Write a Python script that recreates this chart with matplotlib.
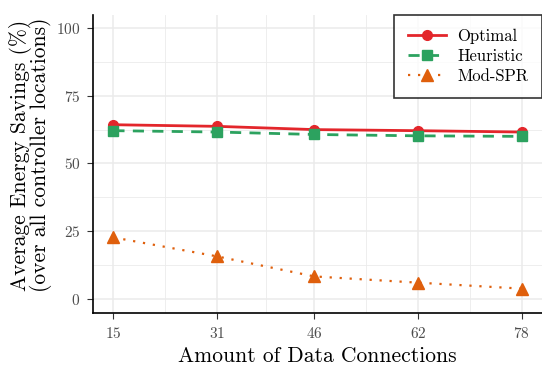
import matplotlib
matplotlib.use("Agg")
import matplotlib.pyplot as plt
from matplotlib.ticker import FixedLocator

plt.rcParams['font.family'] = ['cmr10', 'DejaVu Serif']
plt.rcParams['mathtext.fontset'] = 'cm'
plt.rcParams['axes.formatter.use_mathtext'] = True

connections = [15, 31, 46, 62, 78]
optimal = [64.3, 63.7, 62.5, 62.1, 61.6]
heuristic = [62.1, 61.6, 60.7, 60.2, 60.0]
mod_spr = [22.7, 15.7, 8.3, 6.0, 3.8]
yticks = [0, 25, 50, 75, 100]

W, H = 542, 367
L, R, T, B = 93, 542, 15, 313
fig = plt.figure(figsize=(W/100, H/100), dpi=100)
ax = fig.add_axes([L/W, 1-B/H, (R-L)/W, (B-T)/H])

red = '#e3262b'
green = '#2ca25f'
orange = '#df5f0c'

ax.plot(connections, optimal, color=red, lw=2, marker='o', ms=7, label='Optimal', zorder=3)
ax.plot(connections, heuristic, color=green, lw=2, ls=(0, (4, 3)), marker='s', ms=7, label='Heuristic', zorder=3)
ax.plot(connections, mod_spr, color=orange, lw=1.6, ls=(0, (1, 3.5)), marker='^', ms=8, label='Mod-SPR', zorder=3)

ax.set_xlim(11.85, 81.15)
ax.set_ylim(-5.2, 104.8)
ax.set_xticks(connections)
ax.set_yticks(yticks)
ax.xaxis.set_minor_locator(FixedLocator([(a+b)/2 for a, b in zip(connections[:-1], connections[1:])]))
ax.yaxis.set_minor_locator(FixedLocator([12.5, 37.5, 62.5, 87.5]))
ax.grid(True, which='major', color='#ebebeb', lw=1.1)
ax.grid(True, which='minor', color='#ebebeb', lw=0.6)
ax.set_axisbelow(True)
ax.tick_params(which='major', length=4, width=0.8, color='#333333', labelsize=11, labelcolor='#4d4d4d', direction='out', pad=5)
ax.tick_params(which='minor', length=0)
for s in ['top', 'right']:
    ax.spines[s].set_visible(False)
for s in ['left', 'bottom']:
    ax.spines[s].set_linewidth(1.2)
    ax.spines[s].set_color('black')

ax.set_xlabel('Amount of Data Connections', fontsize=15.5)
ax.xaxis.set_label_coords(0.5, -(346-B)/(B-T))
ax.xaxis.label.set_va('top')
ax.set_ylabel('Average Energy Savings (%)\n(over all controller locations)', fontsize=15.5, linespacing=0.85)
ax.yaxis.set_label_coords(-(L-52)/(R-L), 0.53)

leg = ax.legend(loc='upper right', bbox_to_anchor=(1.0, 1.0), fontsize=12, frameon=True, fancybox=False,
                edgecolor='black', borderpad=0.8, labelspacing=0.3, handlelength=2.3, handletextpad=0.7,
                borderaxespad=0.0)
leg.get_frame().set_linewidth(1.2)

fig.savefig('out.png', dpi=100)
